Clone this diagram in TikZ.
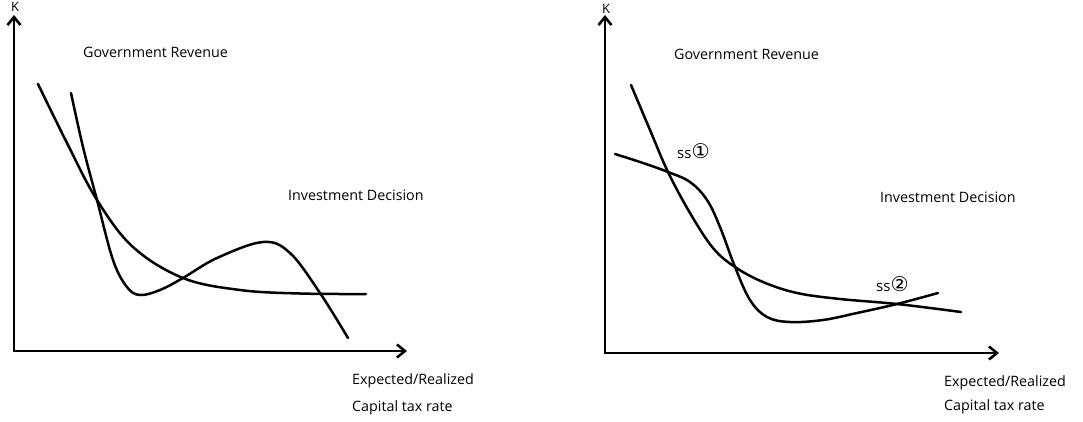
\documentclass[tikz,border=0pt]{standalone}
\usepackage{fontspec}
\setmainfont{Open Sans}
\newfontfamily\circfont[Scale=1.35]{DejaVu Sans}
\usetikzlibrary{arrows.meta,positioning}

\begin{document}
\begin{tikzpicture}[x=1pt,y=-1pt]
            \tikzset{every node/.style={font=\fontsize{14.3}{16}\selectfont, inner sep=0pt, anchor=west},
                     axis/.style={line width=2.6pt, {Straight Barb[length=8pt,width=13pt]}-{Straight Barb[length=8pt,width=13pt]}},
                     curve/.style={line width=2.5pt, line cap=round}}
            \useasboundingbox (0,0) rectangle (1083,421);
            % left panel
            \coordinate (ltop) at (14,15);
            \coordinate (lorig) at (14,351);
            \coordinate (lend) at (407,351);
            \draw[axis] (ltop) -- (lorig) -- (lend);
            \node[anchor=center] (lk) at (15,7) {\fontsize{13}{14}\selectfont K};
            \node (lgov) at (83,52) {Government Revenue};
            \node (linv) at (288,195) {Investment Decision};
            \node (lexp) at (352,381) {Expected/Realized};
            \node (lcap) at (352,408) {Capital tax rate};
            \draw[curve] plot[smooth, tension=0.6] coordinates
                {(38,84) (67,143) (97,200) (133,247) (183,278) (240,290) (300,293.5) (366,294)};
            \draw[curve] plot[smooth, tension=0.6] coordinates
                {(71,93) (83,147) (97,200) (113,260) (127,287) (140,295) (160,290) (183,278)
                 (217,258) (263,242) (290,253) (320,293) (348,338)};
            % right panel
            \coordinate (rtop) at (605,15);
            \coordinate (rorig) at (605,353);
            \coordinate (rend) at (999,353);
            \draw[axis] (rtop) -- (rorig) -- (rend);
            \node[anchor=center] (rk) at (606,9) {\fontsize{13}{14}\selectfont K};
            \node (rgov) at (674,54) {Government Revenue};
            \node (rinv) at (880,197) {Investment Decision};
            \node (rexp) at (944,383) {Expected/Realized};
            \node (rcap) at (944,407) {Capital tax rate};
            \node (ssone) at (677,151) {\fontsize{15}{16}\selectfont ss{\circfont ①}};
            \node (sstwo) at (876,284) {\fontsize{15}{16}\selectfont ss{\circfont ②}};
            \draw[curve] plot[smooth, tension=0.6] coordinates
                {(631,85) (650,130) (668,172) (690,213) (713,248) (735,267) (763,282)
                 (797,293) (840,299) (897,304) (961,312)};
            \draw[curve] plot[smooth, tension=0.6] coordinates
                {(615,154) (643,163) (668,172) (690,182) (707,200) (720,227) (735,267)
                 (750,300) (767,317) (790,322) (823,320) (857,313) (897,304) (938,293)};
        \end{tikzpicture}
\end{document}
